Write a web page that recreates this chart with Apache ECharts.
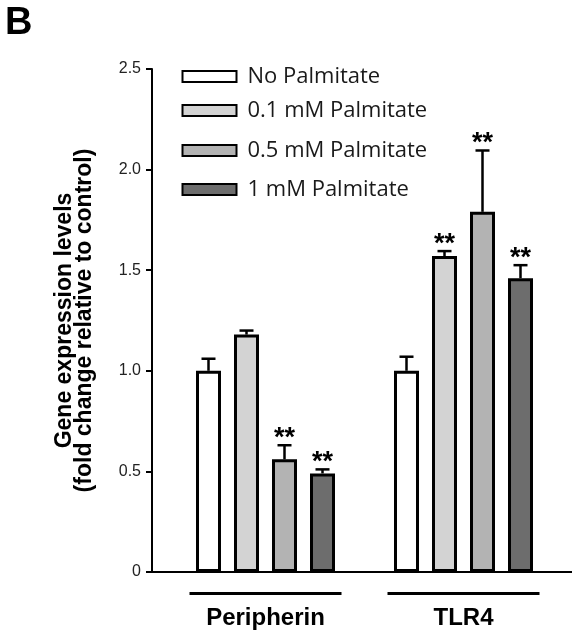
<!DOCTYPE html>
<html>
<head>
<meta charset="utf-8">
<script src="https://cdn.jsdelivr.net/npm/echarts@6/dist/echarts.min.js"></script>
<style>html,body{margin:0;padding:0;background:#fff;}#chart{width:574px;height:634px;}</style>
</head>
<body>
<div id="chart"></div>
<script>
const categories = ['Peripherin', 'TLR4'];
const seriesNames = ['No Palmitate', '0.1 mM Palmitate', '0.5 mM Palmitate', '1 mM Palmitate'];
const noPalmitate = [1.0, 1.0];
const palm01 = [1.18, 1.57];
const palm05 = [0.56, 1.79];
const palm1 = [0.49, 1.46];
const noPalmitateErr = [0.06, 0.07];
const palm01Err = [0.02, 0.025];
const palm05Err = [0.07, 0.305];
const palm1Err = [0.02, 0.065];
const noPalmitateSig = ['', ''];
const palm01Sig = ['', '**'];
const palm05Sig = ['**', '**'];
const palm1Sig = ['**', '**'];
const yTicks = [0, 0.5, 1.0, 1.5, 2.0, 2.5];

const values = [noPalmitate, palm01, palm05, palm1];
const errs = [noPalmitateErr, palm01Err, palm05Err, palm1Err];
const sigs = [noPalmitateSig, palm01Sig, palm05Sig, palm1Sig];
const colors = ['#ffffff', '#d3d3d3', '#b3b3b3', '#6d6d6d'];

const BAR_W = 25;
const GAP = 13;
const legendTops = [65.5, 99.5, 139.5, 178.5];

const chart = echarts.init(document.getElementById('chart'));
const series = [];
values.forEach((vals, i) => {
  series.push({
    name: seriesNames[i],
    type: 'bar',
    data: vals,
    barWidth: BAR_W,
    barGap: (GAP / BAR_W * 100) + '%',
    itemStyle: { color: colors[i], borderColor: '#000', borderWidth: 3 },
    z: 2
  });
});
values.forEach((vals, i) => {
  const offset = (i - 1.5) * (BAR_W + GAP);
  series.push({
    type: 'custom',
    name: seriesNames[i] + ' err',
    data: vals.map((v, k) => [k, v, errs[i][k], k]),
    z: 3,
    silent: true,
    renderItem: function (params, api) {
      const k = api.value(3);
      const base = api.coord([api.value(0), api.value(1)]);
      const top = api.coord([api.value(0), api.value(1) + api.value(2)]);
      const x = base[0] + offset;
      const children = [
        { type: 'line', shape: { x1: x, y1: base[1], x2: x, y2: top[1] }, style: { stroke: '#000', lineWidth: 2.5 } },
        { type: 'line', shape: { x1: x - 7, y1: top[1], x2: x + 7, y2: top[1] }, style: { stroke: '#000', lineWidth: 2.5 } }
      ];
      const s = sigs[i][k];
      if (s) {
        children.push({ type: 'text', style: { text: s, x: x, y: top[1] - 7, align: 'center', verticalAlign: 'middle', font: 'bold 27px "Liberation Sans", Arial, sans-serif', fill: '#000' } });
      }
      return { type: 'group', children: children };
    }
  });
});

chart.setOption({
  animation: false,
  backgroundColor: '#fff',
  title: { text: 'B', left: 5, top: 5, padding: 0, textStyle: { fontSize: 38, fontWeight: 'bold', fontFamily: '"Liberation Sans", Arial, sans-serif', color: '#000' } },
  legend: seriesNames.map((n, i) => ({
    data: [n],
    left: 181.5,
    top: legendTops[i],
    padding: 0,
    icon: 'rect',
    itemWidth: 54,
    itemHeight: 11,
    itemGap: 0,
    selectedMode: false,
    textStyle: { fontSize: 22, lineHeight: 22, fontFamily: '"Open Sans", sans-serif', color: '#1a1a1a', padding: [0, 0, 0, 6] }
  })),
  grid: { left: 166.5, right: 11.5, top: 69, bottom: 62 },
  xAxis: {
    type: 'category',
    data: categories,
    axisLine: { show: false },
    axisTick: { show: false },
    axisLabel: {
      margin: 20,
      formatter: function (v) { return '{line|}\n{name|' + v + '}'; },
      rich: {
        line: { width: 152, height: 3, backgroundColor: '#000' },
        name: { fontSize: 24, fontWeight: 'bold', fontFamily: '"Liberation Sans", Arial, sans-serif', color: '#000', lineHeight: 46 }
      }
    }
  },
  yAxis: {
    type: 'value',
    min: 0,
    max: 2.5,
    interval: 0.5,
    offset: 14.5,
    name: 'Gene expression levels\n(fold change relative to control)',
    nameLocation: 'middle',
    nameGap: 57.5,
    nameMoveOverlap: false,
    nameTextStyle: { fontSize: 23, fontWeight: 'bold', fontFamily: '"Liberation Sans", Arial, sans-serif', color: '#000', lineHeight: 20 },
    axisLine: { show: true, lineStyle: { color: '#000', width: 2 } },
    axisTick: { show: true, inside: false, length: 6, lineStyle: { color: '#000', width: 2 } },
    splitLine: { show: false },
    axisLabel: {
      fontSize: 16,
      fontFamily: '"Liberation Sans", Arial, sans-serif',
      color: '#222',
      margin: 11,
      formatter: function (v) { return v === 0 ? '0' : v.toFixed(1); }
    }
  },
  graphic: [
    { type: 'line', shape: { x1: 151, y1: 572, x2: 572, y2: 572 }, style: { stroke: '#000', lineWidth: 2 }, z: 10 }
  ],
  series: series
});
</script>
</body>
</html>
